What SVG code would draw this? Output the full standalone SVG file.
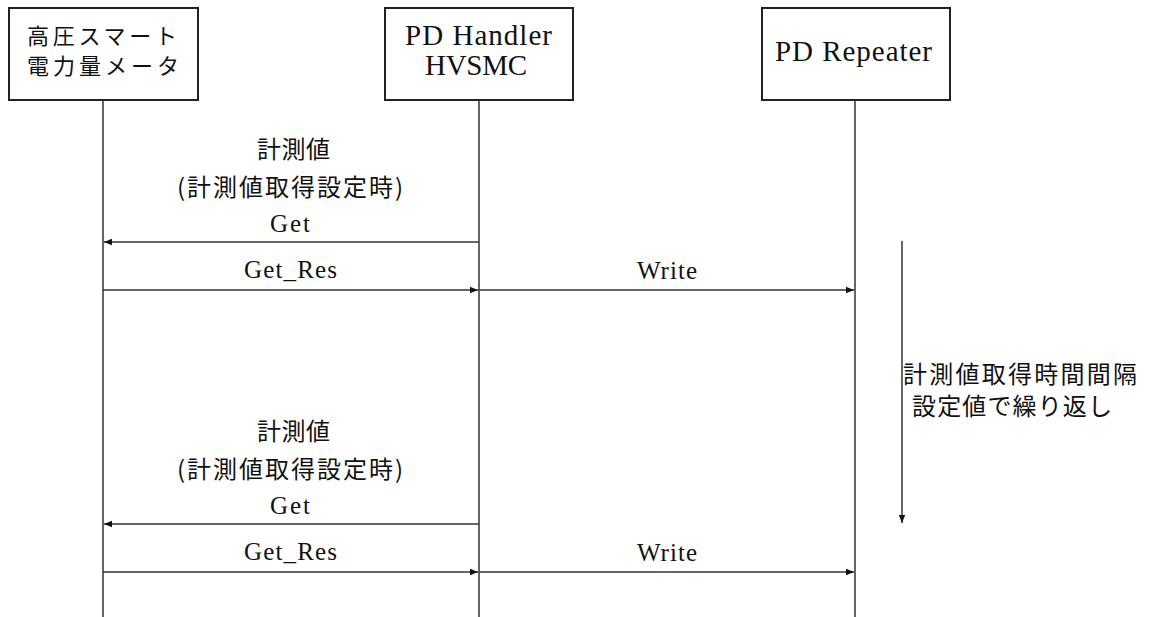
<svg xmlns="http://www.w3.org/2000/svg" width="1152" height="617" viewBox="0 0 1152 617">
<style>
.box{fill:#fff;stroke:#222;stroke-width:2}
.life{stroke:#333;stroke-width:1.5;fill:none}
.msg{stroke:#333;stroke-width:1.5;fill:none;marker-end:url(#ah)}
.ser{font-family:"Liberation Serif",serif;font-size:29px;fill:#111;text-anchor:middle}
.msgt{font-family:"Liberation Serif",serif;font-size:25px;fill:#111;text-anchor:middle}
.jp{font-family:"Noto Sans CJK JP","Noto Sans CJK SC",sans-serif;font-size:24px;fill:#111;text-anchor:middle}
.jpb{font-family:"Noto Sans CJK JP","Noto Sans CJK SC",sans-serif;font-size:22px;fill:#111;text-anchor:middle}
.jpl{font-family:"Noto Sans CJK JP","Noto Sans CJK SC",sans-serif;font-size:24px;fill:#111}
</style>
<defs>
<marker id="ah" viewBox="0 0 10 10" refX="10" refY="5" markerWidth="10" markerHeight="8" markerUnits="userSpaceOnUse" orient="auto">
<path d="M0,1 L10,5 L0,9 Z" fill="#111"/>
</marker>
</defs>
<rect width="1152" height="617" fill="#fff"/>
<g id="lifelines">
<line class="life" x1="103" y1="100" x2="103" y2="617"/>
<line class="life" x1="479" y1="100" x2="479" y2="617"/>
<line class="life" x1="855" y1="100" x2="855" y2="617"/>
</g>
<g id="node-meter">
<rect class="box" x="9" y="8" width="189" height="92"/>
<text class="jpb" x="102" y="44" textLength="150" lengthAdjust="spacing">高圧スマート</text>
<text class="jpb" x="103" y="74" textLength="152" lengthAdjust="spacing">電力量メータ</text>
</g>
<g id="node-handler">
<rect class="box" x="385" y="8" width="188" height="92"/>
<text class="ser" x="478.5" y="45" textLength="147" lengthAdjust="spacing">PD Handler</text>
<text class="ser" x="476" y="75" textLength="102" lengthAdjust="spacing">HVSMC</text>
</g>
<g id="node-repeater">
<rect class="box" x="762" y="8" width="188" height="92"/>
<text class="ser" x="853.5" y="61" textLength="157" lengthAdjust="spacing">PD Repeater</text>
</g>
<g id="connectors">
<line class="msg" x1="479" y1="242" x2="104" y2="242"/>
<line class="msg" x1="103" y1="290" x2="478" y2="290"/>
<line class="msg" x1="479" y1="290" x2="854" y2="290"/>
<line class="msg" x1="479" y1="524" x2="104" y2="524"/>
<line class="msg" x1="103" y1="572" x2="478" y2="572"/>
<line class="msg" x1="479" y1="572" x2="854" y2="572"/>
<line class="msg" x1="902" y1="241" x2="902" y2="523"/>
</g>
<g id="labels">
<text class="jp" x="293.5" y="158" textLength="73" lengthAdjust="spacing">計測値</text>
<text class="jp" x="290" y="196" textLength="226" lengthAdjust="spacing">(計測値取得設定時)</text>
<text class="msgt" x="290" y="232" textLength="40" lengthAdjust="spacing">Get</text>
<text class="msgt" x="290.5" y="278" textLength="93" lengthAdjust="spacing">Get_Res</text>
<text class="msgt" x="667" y="279" textLength="60" lengthAdjust="spacing">Write</text>
<text class="jp" x="293.5" y="440" textLength="73" lengthAdjust="spacing">計測値</text>
<text class="jp" x="290" y="478" textLength="226" lengthAdjust="spacing">(計測値取得設定時)</text>
<text class="msgt" x="290" y="514" textLength="40" lengthAdjust="spacing">Get</text>
<text class="msgt" x="290.5" y="560" textLength="93" lengthAdjust="spacing">Get_Res</text>
<text class="msgt" x="667" y="561" textLength="60" lengthAdjust="spacing">Write</text>
<text class="jpl" x="903" y="383" textLength="234" lengthAdjust="spacing">計測値取得時間間隔</text>
<text class="jpl" x="912" y="415" textLength="200" lengthAdjust="spacing">設定値で繰り返し</text>
</g>
</svg>
